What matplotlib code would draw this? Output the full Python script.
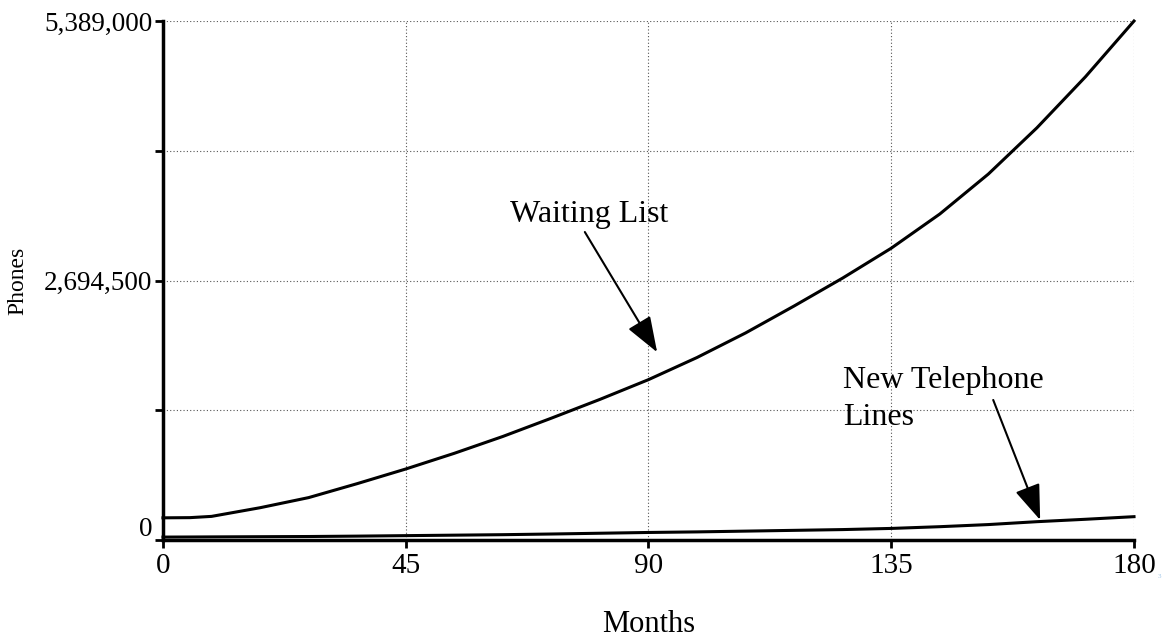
import matplotlib
matplotlib.use('Agg')
import matplotlib.pyplot as plt
from matplotlib.transforms import ScaledTranslation

plt.rcParams['font.family'] = ['Liberation Serif', 'DejaVu Serif']

# simulation output (months, phones)
months = [0, 5, 9, 18, 27, 36, 45, 54, 63, 72, 81, 90, 99, 108, 117, 126,
          135, 144, 153, 162, 171, 180]
waiting_list = [230000, 232000, 245000, 335000, 440000, 585000, 737000,
                900000, 1075000, 1265000, 1460000, 1665000, 1895000,
                2150000, 2430000, 2720000, 3030000, 3385000, 3800000,
                4280000, 4810000, 5389000]
new_lines = [30000, 31000, 32000, 34000, 36000, 40000, 45000, 50000, 55000,
             62000, 70000, 78000, 84000, 92000, 100000, 108000, 120000,
             138000, 160000, 190000, 215000, 242000]

y_max = 5389000
y_ticks = [0, y_max / 4, y_max / 2, 3 * y_max / 4, y_max]
y_tick_labels = ['0', '', '2,694,500', '', '5,389,000']
x_ticks = [0, 45, 90, 135, 180]

fig = plt.figure(figsize=(11.65, 6.41), dpi=100)
ax = fig.add_axes([0.1399, 0.1576, 0.8335, 0.8096])

ax.plot(months, waiting_list, color='black', lw=2.2, clip_on=False)
ax.plot(months, new_lines, color='black', lw=2.2, clip_on=False)

ax.set_xlim(0, 180)
ax.set_ylim(0, y_max)
ax.set_xticks(x_ticks)
ax.set_xticklabels([str(t) for t in x_ticks])
ax.set_yticks(y_ticks)
ax.set_yticklabels(y_tick_labels)

ax.grid(True, color='#555555', linestyle=(0, (1, 2)), lw=0.8)
ax.set_axisbelow(True)

for s in ['top', 'right']:
    ax.spines[s].set_visible(False)
for s in ['left', 'bottom']:
    ax.spines[s].set_linewidth(2.5)

ax.tick_params(axis='both', direction='out', length=6, width=2)
ax.tick_params(axis='y', labelsize=19.5, pad=1.5)
ax.tick_params(axis='x', labelsize=21, pad=3.5)

# the "0" on the y axis sits above the axis line
zero_lbl = ax.get_yticklabels()[0]
zero_lbl.set_transform(zero_lbl.get_transform()
                       + ScaledTranslation(0, 10 / 72, fig.dpi_scale_trans))

ax.set_xlabel('Months', fontsize=22)
ax.xaxis.set_label_coords(0.5, -0.135)
ax.set_ylabel('Phones', fontsize=17)
ax.yaxis.set_label_coords(-0.139, 0.5)

arrow = dict(arrowstyle='-|>,head_length=1.1,head_width=0.4',
             color='black', lw=1.5, mutation_scale=20, shrinkA=0, shrinkB=0)

ax.text(64.3, 3300000, 'Waiting List', fontsize=23, ha='left', va='baseline')
ax.annotate('', xy=(91.6, 1950000), xytext=(78.2, 3198000), arrowprops=arrow)

ax.text(126.1, 1810000, 'New Telephone\nLines', fontsize=23,
        ha='left', va='top', linespacing=1.38)
ax.annotate('', xy=(162.6, 208000), xytext=(153.9, 1454000), arrowprops=arrow)

fig.text(1158 / 1165, 1 - 578 / 641, '3', fontsize=5, color='#9fc5e8')

plt.savefig('out.png', dpi=100)
